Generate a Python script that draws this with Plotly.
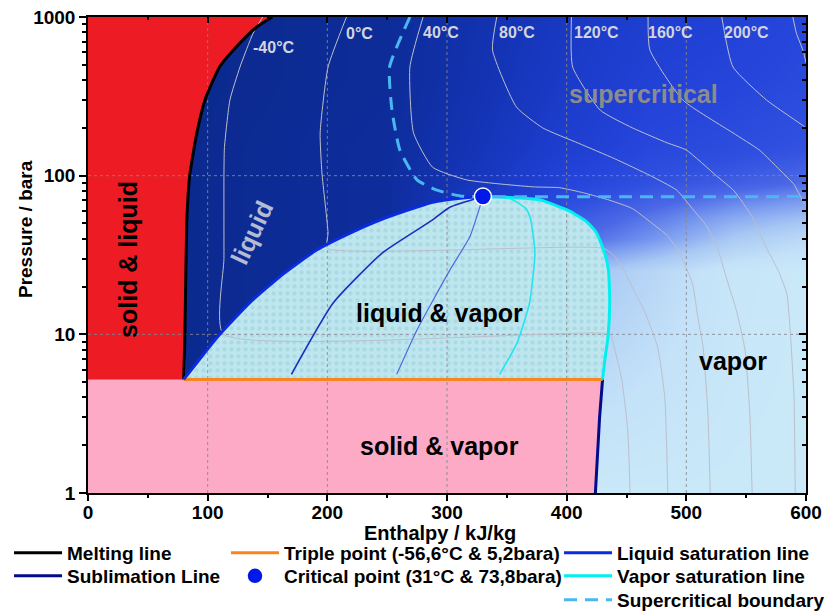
import math
import plotly.graph_objects as go

# ---------------- chart values ----------------
X_TICKS = [0, 100, 200, 300, 400, 500, 600]
Y_TICKS = [1, 10, 100, 1000]
Y_TICK_TEXT = ["1", "10", "100", "1000"]

MELT_H = [80, 81, 82.5, 85, 91, 97.8, 110, 127, 141, 154]
MELT_P = [5.2, 10, 50, 100, 186, 300, 484, 685, 865, 1000]

TRIPLE_H = [80, 430]
TRIPLE_P = [5.2, 5.2]

SUBL_H = [430, 427.5, 424]
SUBL_P = [5.2, 3, 1]

LIQ_H = [80, 108, 135, 163, 191, 219, 246.5, 275, 288, 311, 330]
LIQ_P = [5.2, 9.6, 15.8, 24, 34, 43.5, 53.5, 63.5, 68, 72, 73.8]

VAP_H = [330, 358, 378, 402, 417, 425, 432, 435, 436, 434.5, 432, 430]
VAP_P = [73.8, 72.4, 70.3, 60, 51, 43.5, 32, 25, 15.8, 9.6, 7, 5.2]

CRIT_H = [330]
CRIT_P = [73.8]

SCB_H = [269, 252, 254, 260.6, 275, 291.6, 311, 330, 600]
SCB_P = [1000, 484, 259, 145, 94, 81, 74.5, 73.8, 73.8]

# constant-quality lines inside the dome
Q25_H = [330, 302, 288, 246, 205, 170]
Q25_P = [73.8, 63, 52.6, 32.6, 15.8, 5.6]
Q50_H = [330, 327, 319, 302.5, 275, 258]
Q50_P = [73.8, 62, 41, 25.5, 10.7, 5.6]
Q75_H = [330, 352, 366, 370, 373.5, 369, 358.5, 344]
Q75_P = [73.8, 72, 62, 52.6, 32.6, 15.8, 8.8, 5.6]

# isotherms
ISO_M40_H = [146, 138, 127, 118.6, 114, 113.6, 113.6, 113, 436, 438, 446, 451, 453]
ISO_M40_P = [1000, 790, 484, 300, 150, 100, 30, 10.05, 10.05, 9.3, 5.2, 2.5, 1]
ISO_0_H = [216, 200.6, 194, 195.5, 200.6, 200, 431, 440, 447, 456, 465, 476, 482, 484.5]
ISO_0_P = [1000, 484, 186, 104, 43.5, 34.85, 34.85, 31, 26, 19, 14, 8.3, 4, 1]
ISO_40_H = [280, 269, 272, 288, 316.6, 372, 394, 414, 436, 455, 470, 484, 494, 505, 510, 514, 518, 520]
ISO_40_P = [1000, 484, 186, 113, 94, 85, 84, 78, 70, 62, 51, 42, 33, 21, 12.3, 8.3, 3.2, 1]
ISO_80_H = [341.6, 338, 358, 380, 410, 440, 470, 492, 505, 517, 526, 534, 542, 549, 553, 555]
ISO_80_P = [1000, 620, 271, 200, 160, 128, 100, 81, 62, 48, 35, 22, 14, 8, 3.2, 1]
ISO_120_H = [404, 405, 428, 455, 484, 500, 525, 540, 555, 567, 577, 584, 587, 590, 591]
ISO_120_P = [1000, 484, 259, 200, 161, 145, 100, 80, 55, 35, 25, 18, 10, 4, 1]
ISO_160_H = [468, 469.5, 497, 539, 561, 580.6, 590, 597, 600]
ISO_160_P = [1000, 620, 300, 186, 145, 104, 88, 70, 65]
ISO_200_H = [529.6, 539, 567, 599, 600]
ISO_200_P = [1000, 484, 300, 203, 200]
ISO_240_H = [589, 592, 598, 600]
ISO_240_P = [1000, 790, 600, 513]

ISO_LABELS = ["-40°C", "0°C", "40°C", "80°C", "120°C", "160°C", "200°C"]
REGION_LABELS = ["solid & liquid", "liquid", "supercritical", "liquid & vapor",
                 "solid & vapor", "vapor"]

LEGEND_NAMES = ["Melting line", "Sublimation Line",
                "Triple point (-56,6°C & 5,2bara)", "Critical point (31°C & 73,8bara)",
                "Liquid saturation line", "Vapor saturation line",
                "Supercritical boundary"]

# ---------------- styling ----------------
FONT = "Liberation Sans, Arial, sans-serif"
X_RANGE = [0, 600]
P_MIN, P_MAX = 1, 1000
LOG_RANGE = [math.log10(P_MIN), math.log10(P_MAX)]

# background colour gradient (style control grid, drawn on a hidden linear log10-p axis)
GRAD_H = [0, 250, 400, 470, 540, 600]
GRAD_P = [1, 25, 40, 55, 70, 90, 150, 400, 1000]
GRAD_Z = [
    [0, 0.10, 1.00, 1.00, 1.00, 1.00],
    [0, 0.10, 0.82, 0.90, 0.98, 1.00],
    [0, 0.10, 0.64, 0.74, 0.86, 0.92],
    [0, 0.10, 0.58, 0.68, 0.78, 0.83],
    [0, 0.10, 0.52, 0.62, 0.70, 0.75],
    [0, 0.10, 0.45, 0.55, 0.61, 0.66],
    [0, 0.10, 0.38, 0.48, 0.52, 0.56],
    [0, 0.08, 0.33, 0.42, 0.46, 0.50],
    [0, 0.08, 0.30, 0.38, 0.42, 0.47],
]
GRAD_SCALE = [[0, "#0a2888"], [0.2, "#1232b0"], [0.35, "#1c3ccc"], [0.45, "#2444da"],
              [0.55, "#3050e0"], [0.65, "#4a68e6"], [0.75, "#7a9af0"],
              [0.85, "#a8c8f4"], [0.95, "#c4e2f8"], [1, "#c9e8f8"]]

ISO_COLOR = "#bcbfcb"
SMOOTH = 0.5
DATA_Y = "y2"   # visible log pressure axis

fig = go.Figure()

fig.add_trace(go.Heatmap(x=GRAD_H, y=[math.log10(p) for p in GRAD_P], z=GRAD_Z,
                         colorscale=GRAD_SCALE, zmin=0, zmax=1, zsmooth="best",
                         showscale=False, hoverinfo="skip", xaxis="x", yaxis="y"))

# solid & liquid (red)
fig.add_trace(go.Scatter(x=[X_RANGE[0]] + MELT_H + [X_RANGE[0]],
                         y=[MELT_P[0]] + MELT_P + [P_MAX], yaxis=DATA_Y,
                         mode="none", fill="toself", fillcolor="#ed1c24",
                         line=dict(shape="spline", smoothing=SMOOTH),
                         showlegend=False, hoverinfo="skip"))
# solid & vapor (pink)
fig.add_trace(go.Scatter(x=[X_RANGE[0], X_RANGE[0]] + TRIPLE_H + SUBL_H[1:],
                         y=[P_MIN, TRIPLE_P[0]] + TRIPLE_P + SUBL_P[1:], yaxis=DATA_Y,
                         mode="none", fill="toself", fillcolor="#fcaac6",
                         showlegend=False, hoverinfo="skip"))
# liquid & vapor dome
fig.add_trace(go.Scatter(x=LIQ_H + VAP_H[1:], y=LIQ_P + VAP_P[1:], yaxis=DATA_Y,
                         mode="none", fill="toself", fillcolor="#bde5ee",
                         fillpattern=dict(shape=".", fgcolor="#93cfdc",
                                          bgcolor="#bfe6ee", size=7, solidity=0.3),
                         showlegend=False, hoverinfo="skip"))

# grid lines (drawn over the region fills)
gx, gy = [], []
for t in X_TICKS[1:-1]:
    gx += [t, t, None]
    gy += [P_MIN, P_MAX, None]
for t in Y_TICKS[1:-1]:
    gx += [X_RANGE[0], X_RANGE[1], None]
    gy += [t, t, None]
fig.add_trace(go.Scatter(x=gx, y=gy, yaxis=DATA_Y, mode="lines",
                         line=dict(color="rgba(135,135,145,0.85)", width=1, dash="3px,3px"),
                         showlegend=False, hoverinfo="skip"))

# isotherms
for h, p in [(ISO_M40_H, ISO_M40_P), (ISO_0_H, ISO_0_P), (ISO_40_H, ISO_40_P),
             (ISO_80_H, ISO_80_P), (ISO_120_H, ISO_120_P), (ISO_160_H, ISO_160_P),
             (ISO_200_H, ISO_200_P), (ISO_240_H, ISO_240_P)]:
    fig.add_trace(go.Scatter(x=h, y=p, yaxis=DATA_Y, mode="lines",
                             line=dict(color=ISO_COLOR, width=1, shape="spline", smoothing=SMOOTH),
                             showlegend=False, hoverinfo="skip"))

# quality lines
for h, p, c, w in [(Q25_H, Q25_P, "#1a2fc0", 1.6), (Q50_H, Q50_P, "#5068e0", 1.2),
                   (Q75_H, Q75_P, "#22e5f0", 1.6)]:
    fig.add_trace(go.Scatter(x=h, y=p, yaxis=DATA_Y, mode="lines",
                             line=dict(color=c, width=w, shape="spline", smoothing=SMOOTH),
                             showlegend=False, hoverinfo="skip"))

# boundary lines with legend entries (one legend per entry for exact placement)
fig.add_trace(go.Scatter(x=MELT_H, y=MELT_P, yaxis=DATA_Y, mode="lines", name=LEGEND_NAMES[0],
                         line=dict(color="black", width=3, shape="spline", smoothing=SMOOTH),
                         legend="legend"))
fig.add_trace(go.Scatter(x=SUBL_H, y=SUBL_P, yaxis=DATA_Y, mode="lines", name=LEGEND_NAMES[1],
                         line=dict(color="#000c8c", width=3), legend="legend2"))
fig.add_trace(go.Scatter(x=TRIPLE_H, y=TRIPLE_P, yaxis=DATA_Y, mode="lines", name=LEGEND_NAMES[2],
                         line=dict(color="#f7861e", width=3), legend="legend3"))
fig.add_trace(go.Scatter(x=LIQ_H, y=LIQ_P, yaxis=DATA_Y, mode="lines", name=LEGEND_NAMES[4],
                         line=dict(color="#0a2be0", width=3, shape="spline", smoothing=SMOOTH),
                         legend="legend5"))
fig.add_trace(go.Scatter(x=VAP_H, y=VAP_P, yaxis=DATA_Y, mode="lines", name=LEGEND_NAMES[5],
                         line=dict(color="#00f0f0", width=3, shape="spline", smoothing=SMOOTH),
                         legend="legend6"))
fig.add_trace(go.Scatter(x=SCB_H, y=SCB_P, yaxis=DATA_Y, mode="lines", name=LEGEND_NAMES[6],
                         line=dict(color="#4ab8f0", width=3, dash="13px,8px", shape="spline", smoothing=SMOOTH),
                         legend="legend7"))
fig.add_trace(go.Scatter(x=CRIT_H, y=CRIT_P, yaxis=DATA_Y, mode="markers", name=LEGEND_NAMES[3],
                         marker=dict(color="#0018e8", size=17, line=dict(color="white", width=1.5)),
                         legend="legend4"))

# helper trace so the mirrored (inside-tick) axes are drawn
fig.add_trace(go.Scatter(x=[], y=[], xaxis="x2", yaxis="y3", showlegend=False, hoverinfo="skip"))

# ---------------- annotations (yref 'y' is the linear log10(p) axis) ----------------
ann = []
iso_pos = [(155.4, 2.805), (226.5, 2.899), (295, 2.905), (358.5, 2.905),
           (425.3, 2.905), (487, 2.905), (550, 2.905)]
for lab, (ax_, ay_) in zip(ISO_LABELS, iso_pos):
    ann.append(dict(x=ax_, y=ay_, xref="x", yref="y", text=lab, showarrow=False,
                    font=dict(family=FONT, size=16, color="#d2d5de", weight="bold")))

region_style = [
    ((33.4, 1.475), -90, "black", 25),
    ((137, 1.645), -65, "#b4bcd4", 25),
    ((463.8, 2.515), 0, "#8c8c8c", 25),
    ((294, 1.134), 0, "black", 25),
    ((294, 0.296), 0, "black", 25),
    ((539, 0.832), 0, "black", 25),
]
for lab, ((ax_, ay_), ang, col, sz) in zip(REGION_LABELS, region_style):
    ann.append(dict(x=ax_, y=ay_, xref="x", yref="y", text=lab, showarrow=False,
                    textangle=ang, font=dict(family=FONT, size=sz, color=col, weight="bold")))

ann.append(dict(x=0.49, y=-0.085, xref="paper", yref="paper", text="Enthalpy / kJ/kg",
                showarrow=False, yanchor="middle",
                font=dict(family=FONT, size=20, color="black", weight="bold")))
ann.append(dict(x=-0.0877, y=0.5546, xref="paper", yref="paper", text="Pressure / bara",
                showarrow=False, textangle=-90, xanchor="center", yanchor="middle",
                font=dict(family=FONT, size=19, color="black", weight="bold")))

tickfont = dict(family=FONT, size=19, color="black", weight="bold")
legfont = dict(family=FONT, size=19, color="black", weight="bold")

common_x = dict(range=X_RANGE, showgrid=False, zeroline=False, showline=True,
                linecolor="black", linewidth=1.5, tickcolor="black", tickwidth=1.5)
common_y = dict(type="log", range=LOG_RANGE, showgrid=False, zeroline=False, showline=True,
                linecolor="black", linewidth=1.5, tickcolor="black", tickwidth=1.5,
                overlaying="y")


def leg(x, y):
    return dict(x=x, y=y, xanchor="left", yanchor="top", font=legfont,
                bgcolor="rgba(0,0,0,0)", itemwidth=48, tracegroupgap=0)


COL_X = [-0.110, 0.1922, 0.656]
ROW_Y = [-0.0861, -0.1345, -0.1849]

fig.update_layout(
    width=825, height=615, autosize=False,
    margin=dict(l=88, r=19, t=17, b=122, autoexpand=False),
    paper_bgcolor="white", plot_bgcolor="white",
    font=dict(family=FONT, color="black"),
    hovermode=False,
    xaxis=dict(**common_x, tickvals=X_TICKS, ticks="outside", ticklen=6, tickfont=tickfont,
               ticklabelstandoff=-5,
               minor=dict(ticks="outside", ticklen=3, dtick=50, tickcolor="black", showgrid=False)),
    xaxis2=dict(**common_x, overlaying="x", side="top", ticks="inside", ticklen=6,
                tickvals=X_TICKS, showticklabels=False,
                minor=dict(ticks="inside", ticklen=3, dtick=50, tickcolor="black", showgrid=False)),
    yaxis=dict(type="linear", range=LOG_RANGE, visible=False, showgrid=False, zeroline=False),
    yaxis2=dict(**common_y, side="left", tickvals=Y_TICKS, ticktext=Y_TICK_TEXT,
                ticks="outside", ticklen=7, tickfont=tickfont,
                minor=dict(ticks="outside", ticklen=4, dtick="D1", tickcolor="black", showgrid=False)),
    yaxis3=dict(**common_y, side="right", ticks="inside", ticklen=7,
                tickvals=Y_TICKS, showticklabels=False,
                minor=dict(ticks="inside", ticklen=4, dtick="D1", tickcolor="black", showgrid=False)),
    legend=leg(COL_X[0], ROW_Y[0]),
    legend2=leg(COL_X[0], ROW_Y[1]),
    legend3=leg(COL_X[1], ROW_Y[0]),
    legend4=leg(COL_X[1], ROW_Y[1]),
    legend5=leg(COL_X[2], ROW_Y[0]),
    legend6=leg(COL_X[2], ROW_Y[1]),
    legend7=leg(COL_X[2], ROW_Y[2]),
    annotations=ann,
)

fig.write_html("out.html")
